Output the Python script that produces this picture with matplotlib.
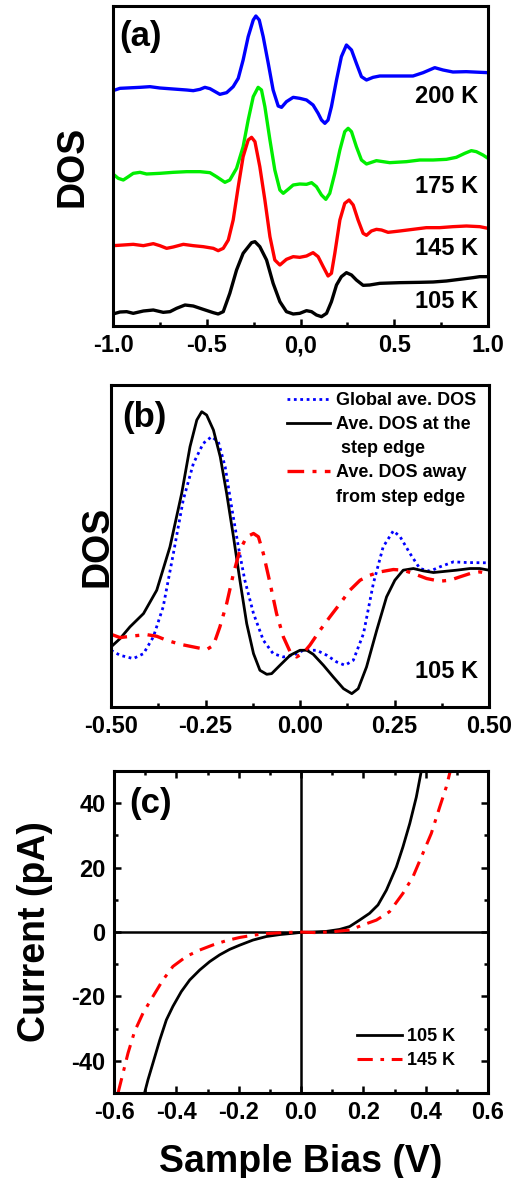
import numpy as np
import matplotlib.pyplot as plt
from matplotlib.lines import Line2D
from matplotlib.ticker import MultipleLocator

plt.rcParams['font.family'] = ['Liberation Sans', 'DejaVu Sans']
plt.rcParams['font.weight'] = 'bold'
plt.rcParams['axes.unicode_minus'] = False
plt.rcParams['lines.solid_joinstyle'] = 'round'
plt.rcParams['lines.dash_joinstyle'] = 'round'

# ---- panel (a): DOS vs bias at four temperatures (offset curves, a.u.) ----
x_200 = [-1.000, -0.963, -0.927, -0.856, -0.803, -0.750, -0.679, -0.607, -0.572, -0.536,
         -0.510, -0.483, -0.430, -0.394, -0.359, -0.332, -0.306, -0.279, -0.252, -0.238,
         -0.220, -0.199, -0.172, -0.146, -0.119, -0.101, -0.075, -0.039, -0.004, 0.032,
         0.067, 0.094, 0.112, 0.130, 0.147, 0.165, 0.192, 0.218, 0.245, 0.272,
         0.298, 0.325, 0.352, 0.387, 0.423, 0.529, 0.600, 0.654, 0.716, 0.760,
         0.813, 0.884, 1.000]
dos_200 = [70.6, 71.3, 71.4, 71.6, 71.8, 71.4, 71.1, 70.8, 70.6, 71.0,
           71.6, 71.2, 69.5, 70.0, 71.8, 74.3, 79.8, 86.8, 91.8, 93.0,
           91.8, 86.8, 78.8, 70.8, 66.0, 65.6, 67.3, 68.6, 68.3, 67.8,
           66.3, 63.8, 61.8, 60.8, 61.8, 65.8, 73.8, 80.8, 84.3, 82.8,
           78.8, 74.8, 73.8, 74.6, 75.0, 75.0, 75.0, 76.0, 77.5, 76.8,
           76.2, 76.3, 76.0]

zx_175 = [339, 355, 370, 385, 400, 420, 440, 480, 520, 560, 600, 630, 650, 675, 690, 710,
          730, 745, 760, 775, 785, 795, 810, 825, 840, 850, 865, 880, 900, 920, 935, 950,
          965, 978, 990, 1005, 1020, 1035, 1045, 1055, 1070, 1085, 1100, 1130, 1170, 1220,
          1260, 1300, 1340, 1370, 1395, 1415, 1430, 1450, 1465]
zy_175 = [522, 535, 540, 530, 520, 517, 522, 520, 517, 515, 515, 518, 530, 547, 540, 505,
          440, 360, 290, 262, 270, 320, 420, 510, 570, 580, 568, 555, 552, 553, 548, 560,
          585, 598, 580, 520, 450, 395, 385, 395, 440, 480, 492, 482, 488, 485,
          480, 480, 478, 472, 460, 452, 455, 465, 475]
x_175 = [round(-1 + 2 * (v - 339) / 1126, 3) for v in zx_175]
dos_175 = [round((978 - v) / 10, 1) for v in zy_175]

zx_145 = [339, 370, 400, 430, 460, 480, 500, 520, 550, 580, 610, 640, 655, 670, 685, 700,
          715, 730, 745, 755, 765, 780, 795, 810, 825, 840, 860, 880, 900, 920, 940, 955,
          970, 985, 995, 1005, 1020, 1035, 1048, 1060, 1075, 1090, 1100, 1115, 1130, 1145,
          1165, 1200, 1240, 1280, 1320, 1360, 1400, 1440, 1465]
zy_145 = [737, 735, 733, 737, 731, 737, 745, 741, 733, 737, 740, 745, 752, 745, 720, 660,
          560, 470, 420, 412, 425, 500, 600, 710, 780, 795, 778, 770, 772, 768, 758, 770,
          800, 828, 820, 760, 660, 610, 600, 615, 660, 700, 706, 693, 688, 690,
          697, 693, 688, 683, 683, 680, 678, 680, 685]
x_145 = [round(-1 + 2 * (v - 339) / 1126, 3) for v in zx_145]
dos_145 = [round((978 - v) / 10, 1) for v in zy_145]

zx_105 = [339, 360, 380, 400, 430, 460, 490, 510, 530, 555, 580, 610, 640, 655, 670, 690,
          710, 730, 755, 765, 780, 800, 820, 840, 860, 880, 900, 920, 935, 950, 965, 980,
          995, 1010, 1025, 1040, 1055, 1070, 1090, 1110, 1140, 1200, 1260, 1300, 1340, 1380,
          1420, 1440, 1465]
zy_105 = [942, 936, 935, 940, 933, 930, 937, 935, 925, 915, 918, 928, 938, 942, 935, 880,
          810, 760, 728, 725, 740, 780, 850, 905, 935, 942, 940, 932, 935, 945, 950, 940,
          905, 855, 830, 818, 825, 840, 856, 855, 850, 848, 847, 846, 843, 838,
          833, 830, 830]
x_105 = [round(-1 + 2 * (v - 339) / 1126, 3) for v in zx_105]
dos_105 = [round((978 - v) / 10, 1) for v in zy_105]

# ---- panel (b): averaged DOS at 105 K ----
xb_glob = [-0.500, -0.476, -0.441, -0.414, -0.388, -0.362, -0.335, -0.309, -0.282, -0.256,
           -0.234, -0.216, -0.198, -0.181, -0.163, -0.146, -0.123, -0.097, -0.071, -0.044,
           -0.018, 0.009, 0.044, 0.071, 0.097, 0.119, 0.141, 0.168, 0.194, 0.220,
           0.247, 0.265, 0.291, 0.317, 0.344, 0.370, 0.406, 0.441, 0.500]
dos_glob = [17.0, 15.5, 14.5, 16.0, 21.0, 30.0, 46.0, 62.0, 73.0, 79.0,
            81.0, 79.5, 72.0, 60.0, 48.0, 38.0, 28.0, 20.0, 16.0, 15.0,
            15.5, 17.0, 17.0, 15.5, 13.5, 12.5, 14.0, 22.0, 37.0, 48.0,
            52.8, 51.0, 46.0, 41.5, 40.7, 42.0, 43.5, 43.3, 43.2]

xb_step = [-0.500, -0.476, -0.450, -0.414, -0.379, -0.344, -0.313, -0.291, -0.273, -0.260,
           -0.247, -0.229, -0.211, -0.194, -0.176, -0.159, -0.141, -0.123, -0.106, -0.088,
           -0.075, -0.053, -0.026, 0.000, 0.018, 0.035, 0.062, 0.088, 0.115, 0.137,
           0.154, 0.176, 0.203, 0.229, 0.251, 0.273, 0.300, 0.326, 0.353, 0.379,
           0.414, 0.450, 0.476, 0.500]
dos_step = [18.0, 20.5, 24.0, 28.0, 35.0, 48.0, 64.0, 78.0, 86.0, 88.5,
            87.5, 83.0, 75.0, 64.0, 51.0, 38.0, 25.0, 16.0, 11.0, 9.8,
            10.0, 12.5, 15.5, 17.0, 17.0, 15.8, 12.5, 9.0, 5.5, 4.0,
            5.5, 12.0, 23.0, 33.0, 38.0, 41.0, 41.5, 40.8, 40.3, 40.6,
            41.0, 41.5, 41.5, 41.0]

xb_away = [-0.500, -0.476, -0.441, -0.406, -0.379, -0.353, -0.317, -0.282, -0.247, -0.229,
           -0.212, -0.194, -0.176, -0.159, -0.141, -0.123, -0.110, -0.097, -0.079, -0.062,
           -0.044, -0.026, -0.009, 0.009, 0.026, 0.053, 0.079, 0.106, 0.132, 0.159,
           0.185, 0.212, 0.247, 0.273, 0.300, 0.335, 0.370, 0.397, 0.423, 0.450,
           0.476, 0.500]
dos_away = [21.8, 20.8, 21.3, 21.7, 21.2, 20.0, 18.8, 18.0, 17.2, 18.5,
            24.0, 31.0, 40.0, 47.0, 51.0, 52.0, 51.0, 46.0, 37.0, 28.0,
            21.0, 16.5, 15.0, 16.2, 18.5, 23.0, 27.0, 31.0, 35.0, 38.0,
            39.5, 40.5, 41.2, 41.0, 40.0, 38.5, 37.7, 38.0, 39.0, 40.0,
            40.5, 39.8]

# ---- panel (c): I-V curves ----
bias_105 = [-0.502, -0.491, -0.475, -0.453, -0.432, -0.411, -0.384, -0.357, -0.325, -0.293,
            -0.261, -0.229, -0.197, -0.154, -0.111, -0.068, -0.026, 0.001, 0.039, 0.082,
            0.124, 0.156, 0.188, 0.220, 0.247, 0.274, 0.306, 0.327, 0.349, 0.370, 0.386]
cur_105 = [-50.0, -45.9, -40.7, -33.5, -27.3, -23.1, -18.5, -14.9, -11.8, -9.2,
           -7.1, -5.4, -4.1, -2.5, -1.4, -0.8, -0.4, -0.1, 0.0, 0.2,
           0.8, 1.7, 3.7, 5.8, 8.4, 13.0, 20.2, 26.4, 33.7, 41.9, 50.0]
bias_145 = [-0.587, -0.571, -0.555, -0.534, -0.507, -0.475, -0.443, -0.411, -0.368, -0.325,
            -0.282, -0.240, -0.197, -0.154, -0.111, -0.058, -0.005, 0.049, 0.103, 0.156,
            0.199, 0.242, 0.284, 0.327, 0.359, 0.391, 0.418, 0.445, 0.466, 0.479]
cur_145 = [-50.0, -43.8, -37.6, -30.9, -25.2, -20.0, -14.9, -10.7, -7.6, -5.6,
           -4.0, -2.7, -1.7, -1.0, -0.5, -0.2, 0.0, -0.2, 0.1, 0.6,
           2.2, 3.7, 6.3, 12.0, 17.1, 24.4, 30.6, 38.8, 45.0, 50.0]

W, H = 523, 1178
fig = plt.figure(figsize=(W / 100, H / 100), dpi=100)


def px_axes(left, top, right, bottom):
    return fig.add_axes([left / W, 1 - bottom / H, (right - left) / W, (bottom - top) / H])


def style(ax):
    for s in ax.spines.values():
        s.set_linewidth(2.2)
    ax.tick_params(which='both', direction='in', width=1.8, labelsize=17, pad=6)
    ax.tick_params(which='major', length=5)
    ax.tick_params(which='minor', length=3)
    for lab in ax.get_xticklabels() + ax.get_yticklabels():
        lab.set_fontweight('bold')


# (a)
ax1 = px_axes(113, 6, 488, 326)
ax1.plot(x_200, dos_200, color='#0000ff', lw=2.4)
ax1.plot(x_175, dos_175, color='#00ee00', lw=2.4)
ax1.plot(x_145, dos_145, color='#ff0000', lw=2.4)
ax1.plot(x_105, dos_105, color='black', lw=2.4)
ax1.set_xlim(-1, 1)
ax1.set_ylim(0, 96)
ax1.set_yticks([])
ax1.set_xticks([-1, -0.5, 0, 0.5, 1], ['-1.0', '-0.5', '0,0', '0.5', '1.0'])
ax1.xaxis.set_minor_locator(MultipleLocator(0.25))
style(ax1)
ax1.set_ylabel('DOS', fontsize=27, fontweight='bold')
ax1.yaxis.set_label_coords(-0.06, 0.5)
ax1.text(0.016, 0.905, '(a)', transform=ax1.transAxes, fontsize=25, fontweight='bold', va='center')
for lab, yy in [('200 K', 68.8), ('175 K', 41.8), ('145 K', 23.3), ('105 K', 7.3)]:
    ax1.text(0.975, yy, lab, transform=ax1.get_yaxis_transform(), ha='right', va='center',
             fontsize=17, fontweight='bold')

# (b)
ax2 = px_axes(111, 385, 489, 707)
l_glob, = ax2.plot(xb_glob, dos_glob, color='#0000ff', lw=2.0, ls=(0, (1, 1.3)))
l_step, = ax2.plot(xb_step, dos_step, color='black', lw=2.0)
l_away, = ax2.plot(xb_away, dos_away, color='#ff0000', lw=2.4, ls=(0, (5, 2.5, 1.2, 2.5)))
ax2.set_xlim(-0.5, 0.5)
ax2.set_ylim(0, 96.5)
ax2.set_yticks([])
ax2.set_xticks([-0.5, -0.25, 0, 0.25, 0.5], ['-0.50', '-0.25', '0.00', '0.25', '0.50'])
ax2.xaxis.set_minor_locator(MultipleLocator(0.125))
style(ax2)
ax2.set_ylabel('DOS', fontsize=27, fontweight='bold')
ax2.yaxis.set_label_coords(0.013, 0.5)
ax2.text(0.03, 0.9, '(b)', transform=ax2.transAxes, fontsize=25, fontweight='bold', va='center')
ax2.text(0.97, 0.109, '105 K', transform=ax2.transAxes, ha='right', va='center',
         fontsize=17, fontweight='bold')
blank = Line2D([], [], color='none')
ax2.legend([l_glob, l_step, blank, l_away, blank],
           ['Global ave. DOS', 'Ave. DOS at the', ' step edge', 'Ave. DOS away', 'from step edge'],
           loc='upper left', bbox_to_anchor=(0.455, 0.99), frameon=False,
           prop={'size': 13, 'weight': 'bold'}, handlelength=2.4, handletextpad=0.35,
           labelspacing=0.4, borderpad=0.2, borderaxespad=0)

# (c)
ax3 = px_axes(114, 771, 488, 1093)
ax3.axhline(0, color='black', lw=1.8)
ax3.axvline(0, color='black', lw=1.8)
c105, = ax3.plot(bias_105, cur_105, color='black', lw=2.0, label='105 K')
c145, = ax3.plot(bias_145, cur_145, color='#ff0000', lw=2.2, ls=(0, (5, 2.5, 1.2, 2.5)), label='145 K')
ax3.set_xlim(-0.6, 0.6)
ax3.set_ylim(-50, 50)
ax3.set_xticks([-0.6, -0.4, -0.2, 0, 0.2, 0.4, 0.6], ['-0.6', '-0.4', '-0.2', '0.0', '0.2', '0.4', '0.6'])
ax3.xaxis.set_minor_locator(MultipleLocator(0.1))
ax3.yaxis.set_major_locator(MultipleLocator(20))
ax3.yaxis.set_minor_locator(MultipleLocator(10))
ax3.tick_params(which='both', top=True, right=True)
style(ax3)
ax3.set_xlabel('Sample Bias (V)', fontsize=27, fontweight='bold', labelpad=14)
ax3.set_ylabel('Current (pA)', fontsize=27, fontweight='bold')
ax3.yaxis.set_label_coords(-0.163, 0.5)
ax3.text(0.04, 0.9, '(c)', transform=ax3.transAxes, fontsize=25, fontweight='bold', va='center')
ax3.legend(handles=[c105, c145], loc='lower right', bbox_to_anchor=(0.923, 0.063), frameon=False,
           prop={'size': 13, 'weight': 'bold'}, handlelength=2.5, handletextpad=0.3,
           labelspacing=0.4, borderpad=0.2, borderaxespad=0)

fig.savefig('out.png', dpi=100)
